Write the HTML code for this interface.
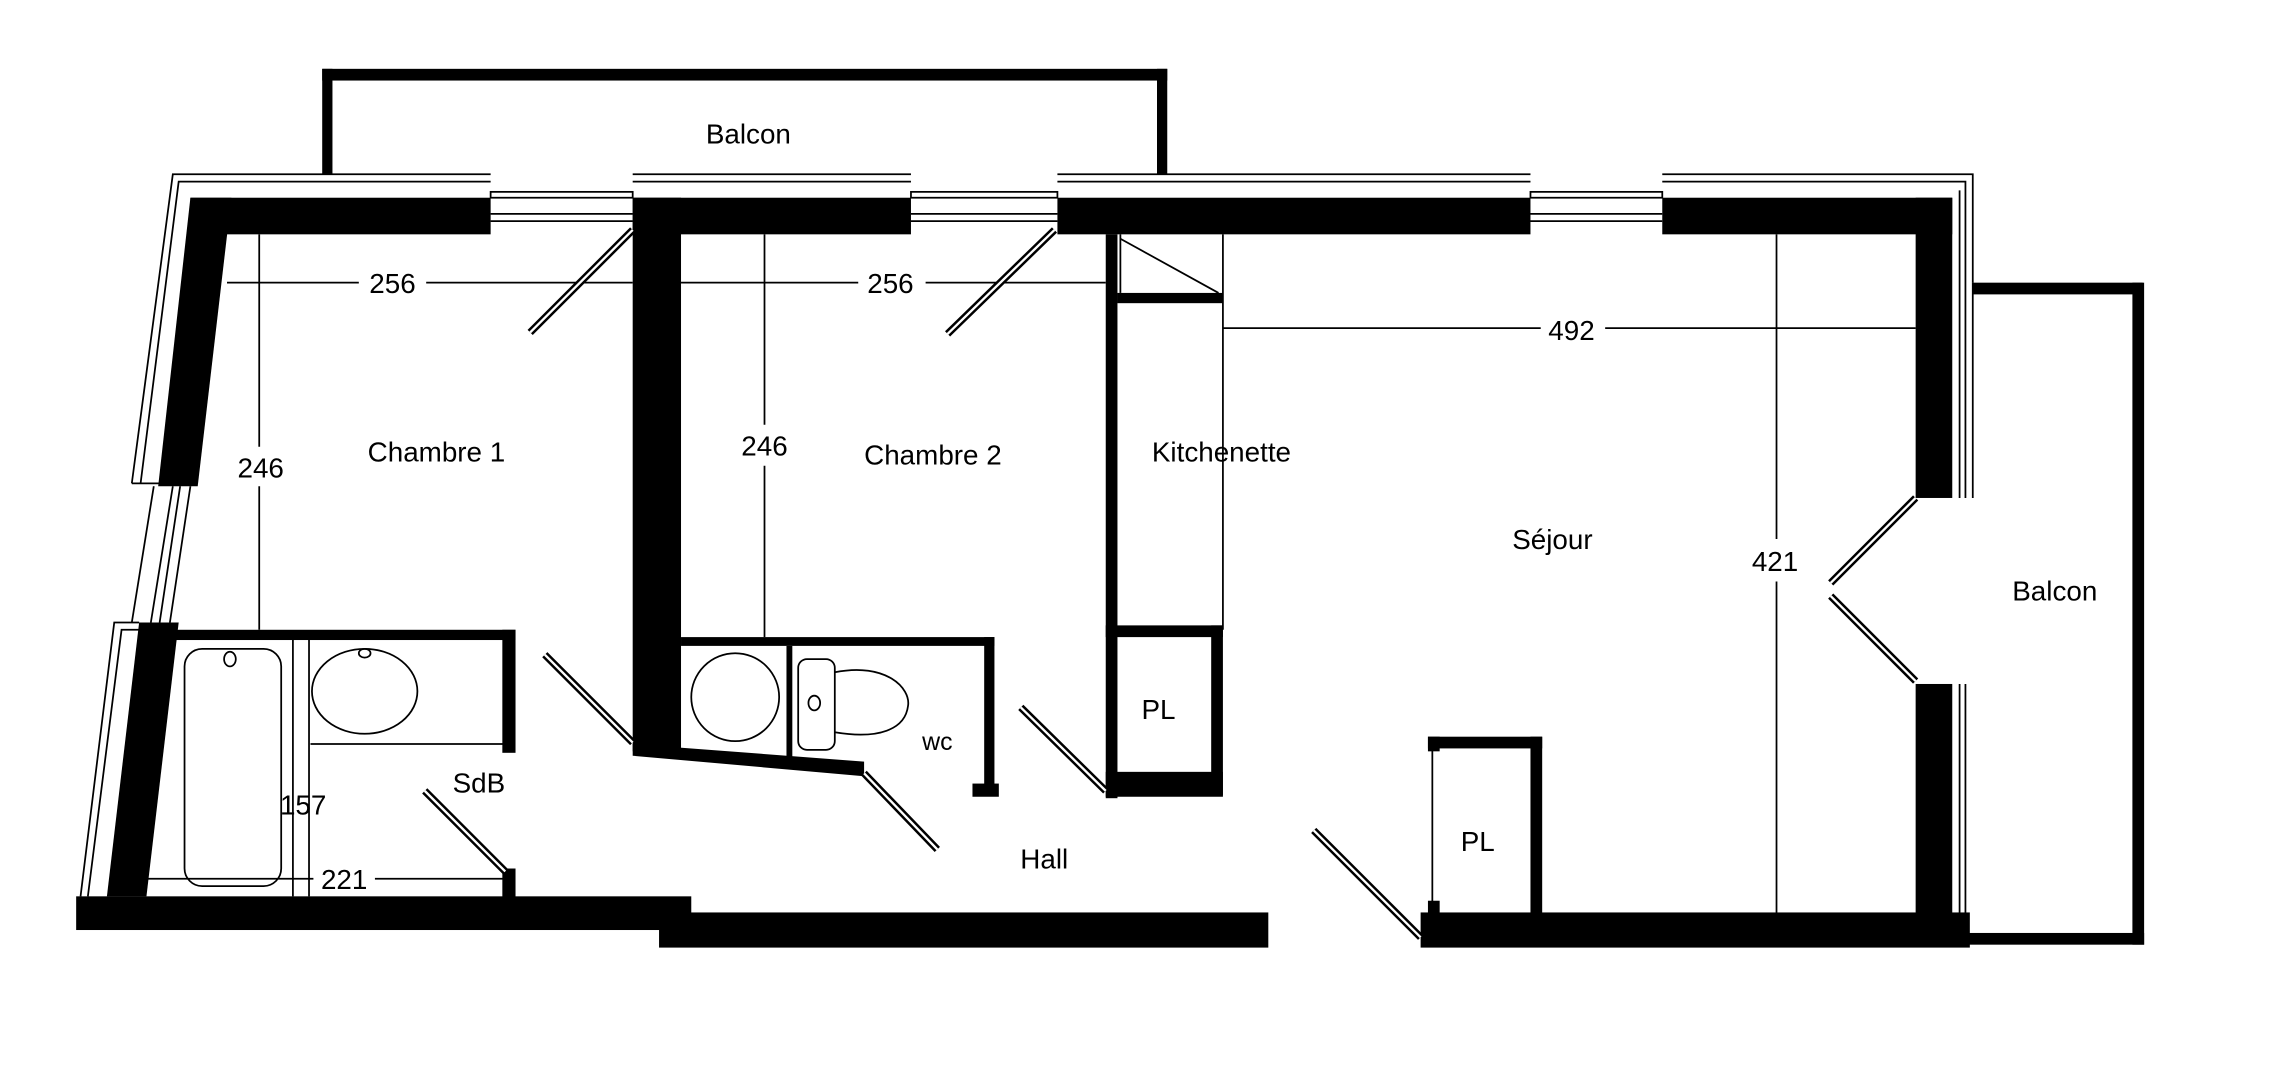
<!DOCTYPE html>
<html><head><meta charset="utf-8"><style>
html,body{margin:0;padding:0;background:#fff;width:2273px;height:1080px;overflow:hidden}
svg{display:block}
text{font-family:"Liberation Sans",sans-serif;font-size:19px;fill:#000}
</style></head><body>
<svg width="2273" height="1080" viewBox="0 0 1552 737.4" preserveAspectRatio="none">
<g fill="#000">
<!-- top balcony -->
<rect x="220" y="47" width="577" height="8"/>
<rect x="220" y="47" width="7" height="72"/>
<rect x="790" y="47" width="7" height="72"/>
<!-- top wall segments -->
<rect x="130" y="135" width="205" height="25"/>
<rect x="432" y="135" width="190" height="25"/>
<rect x="722" y="135" width="323" height="25"/>
<rect x="1135" y="135" width="198" height="25"/>
<!-- right wall -->
<rect x="1308" y="135" width="25" height="205"/>
<rect x="1308" y="467" width="25" height="158"/>
<!-- right balcony -->
<rect x="1347" y="193" width="116" height="8"/>
<rect x="1456" y="193" width="8" height="452"/>
<rect x="1333" y="637" width="131" height="8"/>
<!-- bottom walls -->
<rect x="52" y="612" width="420" height="23"/>
<rect x="450" y="623" width="416" height="24"/>
<rect x="970" y="623" width="375" height="24"/>
<!-- left slanted walls -->
<polygon points="130,135 158,135 135,332 108,332"/>
<polygon points="95,425 122,425 100,612 73,612"/>
<!-- interior wall Ch1/Ch2 -->
<rect x="432" y="135" width="33" height="378"/>
<!-- SdB -->
<rect x="95" y="430" width="257" height="7"/>
<rect x="343" y="430" width="9" height="84"/>
<rect x="343" y="593" width="9" height="20"/>
<!-- WC -->
<rect x="465" y="435" width="214" height="6"/>
<rect x="672" y="435" width="7" height="108"/>
<rect x="664" y="535" width="18" height="9"/>
<rect x="537" y="441" width="4" height="80"/>
<polygon points="432,508 590,520 590,530 432,516"/>
<!-- kitchenette -->
<rect x="755" y="160" width="8" height="385"/>
<rect x="763" y="200" width="72" height="7"/>
<rect x="755" y="427" width="80" height="8"/>
<rect x="827" y="427" width="8" height="116"/>
<rect x="755" y="527" width="80" height="17"/>
<!-- PL2 -->
<rect x="975" y="503" width="78" height="8"/>
<rect x="1045" y="503" width="8" height="122"/>
<rect x="975" y="503" width="8" height="10"/>
<rect x="975" y="615" width="8" height="10"/>
</g>
<g fill="none" stroke="#000" stroke-width="1.2">
<!-- outer thin lines top -->
<polyline points="335,119 118,119 90,330 90,330"/>
<polyline points="335,124 122,124 96,330"/>
<line x1="90" y1="330" x2="110" y2="330"/>
<rect x="335" y="131" width="97" height="4"/><line x1="335" y1="146" x2="432" y2="146"/><line x1="335" y1="151" x2="432" y2="151"/>
<rect x="622" y="131" width="100" height="4"/><line x1="622" y1="146" x2="722" y2="146"/><line x1="622" y1="151" x2="722" y2="151"/>
<rect x="1045" y="131" width="90" height="4"/><line x1="1045" y1="146" x2="1135" y2="146"/><line x1="1045" y1="151" x2="1135" y2="151"/>
<line x1="432" y1="119" x2="622" y2="119"/><line x1="432" y1="124" x2="622" y2="124"/>
<line x1="722" y1="119" x2="1045" y2="119"/><line x1="722" y1="124" x2="1045" y2="124"/>
<polyline points="1135,119 1347,119 1347,193"/><polyline points="1135,124 1342,124 1342,340"/>
<line x1="1338" y1="130" x2="1338" y2="340"/>
<line x1="1342" y1="467" x2="1342" y2="637"/><line x1="1338" y1="467" x2="1338" y2="625"/>
<line x1="1347" y1="193" x2="1347" y2="340"/>
<!-- left window slanted -->
<line x1="105" y1="332" x2="90" y2="425"/><line x1="118" y1="332" x2="103" y2="425"/><line x1="123" y1="332" x2="109" y2="425"/><line x1="130" y1="332" x2="116" y2="425"/>
<polyline points="95,425 78,425 55,612"/><polyline points="95,430 83,430 60,612"/>
<!-- dimensions -->
<line x1="155" y1="193" x2="245" y2="193"/><line x1="291" y1="193" x2="432" y2="193"/>
<line x1="465" y1="193" x2="586" y2="193"/><line x1="632" y1="193" x2="755" y2="193"/>
<line x1="835" y1="224" x2="1052" y2="224"/><line x1="1096" y1="224" x2="1308" y2="224"/>
<line x1="177" y1="160" x2="177" y2="305"/><line x1="177" y1="332" x2="177" y2="430"/>
<line x1="522" y1="160" x2="522" y2="290"/><line x1="522" y1="318" x2="522" y2="435"/>
<line x1="1213" y1="160" x2="1213" y2="368"/><line x1="1213" y1="397" x2="1213" y2="623"/>
<line x1="835" y1="160" x2="835" y2="430"/>
<line x1="100" y1="600" x2="214" y2="600"/><line x1="256" y1="600" x2="345" y2="600"/>
<line x1="200" y1="437" x2="200" y2="612"/><line x1="211" y1="437" x2="211" y2="612"/>
<line x1="212" y1="508" x2="345" y2="508"/>
<line x1="765" y1="163" x2="832" y2="200"/>
<line x1="765" y1="160" x2="765" y2="200"/>
<line x1="762" y1="435" x2="762" y2="527"/>
<line x1="978" y1="511" x2="978" y2="617"/>
<!-- fixtures -->
<rect x="126" y="443" width="66" height="162" rx="12"/>
<ellipse cx="157" cy="450" rx="4" ry="5"/>
<ellipse cx="249" cy="472" rx="36" ry="29"/>
<ellipse cx="249" cy="446" rx="4" ry="3"/>
<circle cx="502" cy="476" r="30"/>
<rect x="545" y="450" width="25" height="62" rx="6"/>
<ellipse cx="556" cy="480" rx="4" ry="5"/>
<path d="M570,459 C605,452 622,470 620,482 C618,498 600,505 570,500"/>
</g>
<!-- doors (double lines) -->
<g stroke="#000" stroke-width="5" fill="none"><path d="M362,227L432,157M647,228L720,157M372,447L432,507M590,528L640,580M697,483L755,540M290,540L345,595M897,567L970,640M1250,398L1308,340M1250,407L1308,465"/></g>
<g stroke="#fff" stroke-width="1.6" fill="none"><path d="M362,227L432,157M647,228L720,157M372,447L432,507M590,528L640,580M697,483L755,540M290,540L345,595M897,567L970,640M1250,398L1308,340M1250,407L1308,465"/></g>
<g text-anchor="middle">
<text x="511" y="98">Balcon</text>
<text x="268" y="200">256</text>
<text x="608" y="200">256</text>
<text x="1073" y="232">492</text>
<text x="178" y="326">246</text>
<text x="522" y="311">246</text>
<text x="298" y="315">Chambre 1</text>
<text x="637" y="317">Chambre 2</text>
<text x="834" y="315">Kitchenette</text>
<text x="1060" y="375">Séjour</text>
<text x="1212" y="390">421</text>
<text x="1403" y="410">Balcon</text>
<text x="791" y="491">PL</text>
<text x="1009" y="581">PL</text>
<text x="327" y="541">SdB</text>
<text x="640" y="512" style="font-size:17px">wc</text>
<text x="207" y="556">157</text>
<text x="235" y="607">221</text>
<text x="713" y="593">Hall</text>
</g>
</svg>
</body></html>
